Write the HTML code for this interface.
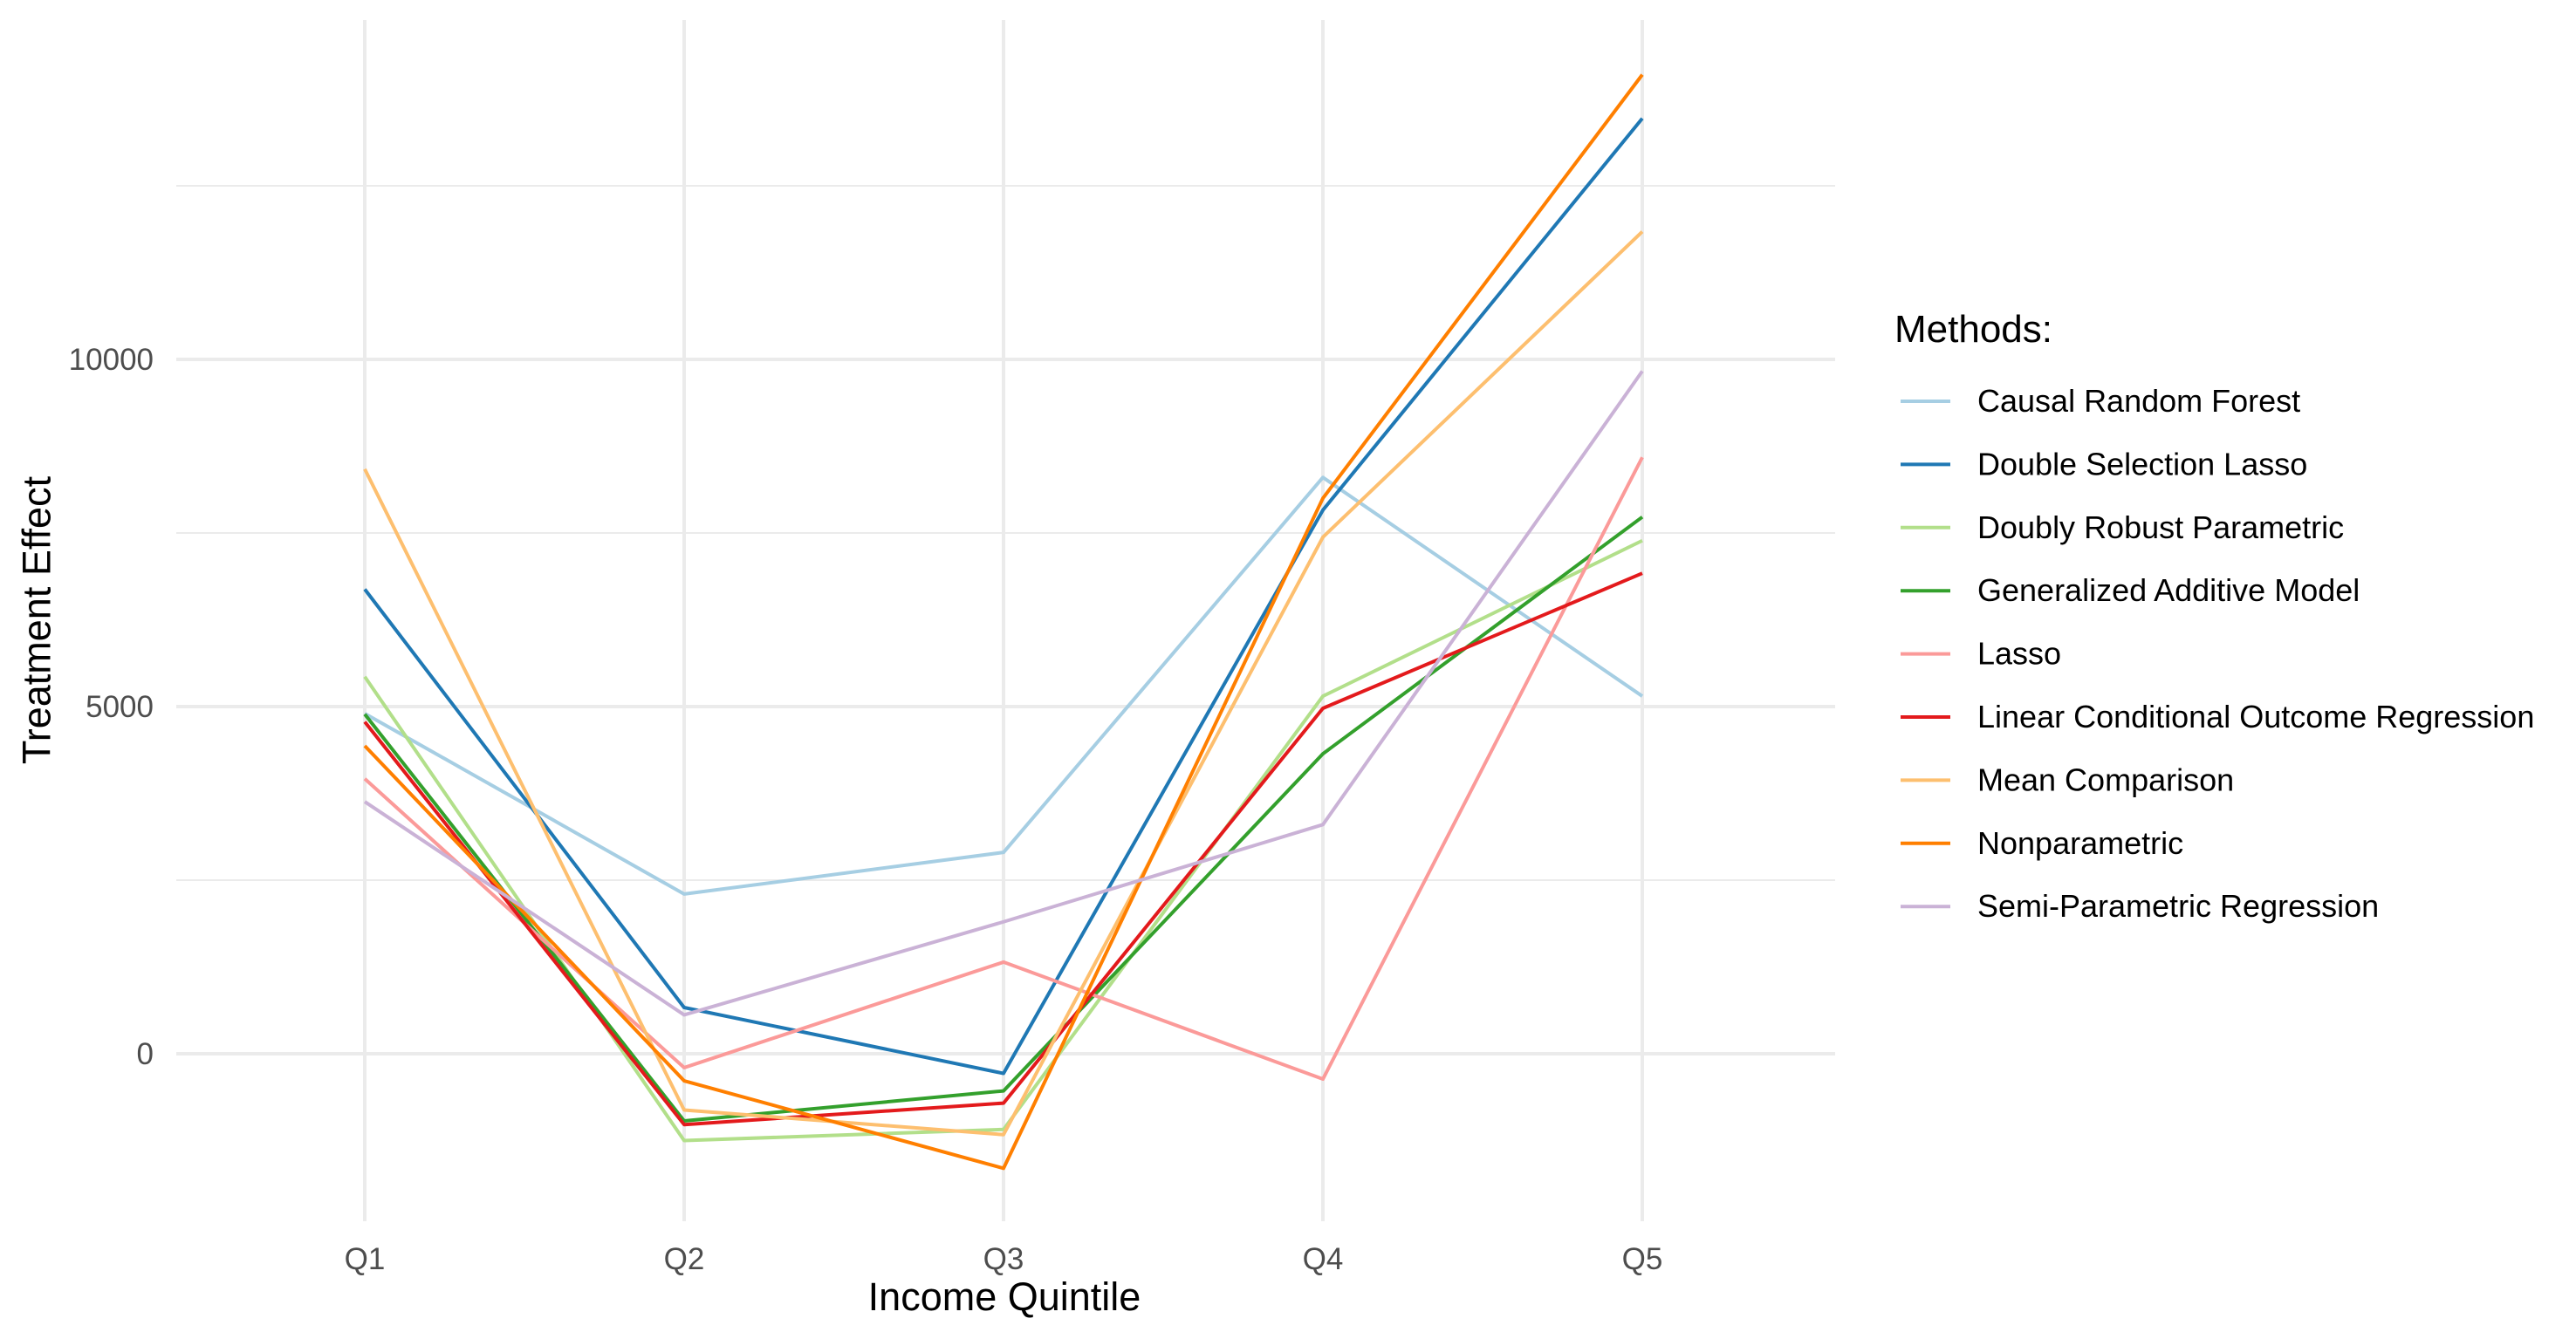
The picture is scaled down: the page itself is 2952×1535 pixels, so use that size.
<!DOCTYPE html>
<html><head><meta charset="utf-8"><style>
html,body{margin:0;padding:0;background:#fff;}
svg{display:block;font-family:"Liberation Sans",Arial,sans-serif;}
</style></head><body>
<svg id="chart" width="2952" height="1535" viewBox="0 0 2952 1535">
<g id="grid"></g>
<g id="lines"></g>
<g id="yticks"></g>
<g id="xticks"></g>
<text x="42" y="711" transform="rotate(-90 42 711)" text-anchor="middle" dominant-baseline="central" font-size="45" fill="#000">Treatment Effect</text>
<text x="1151" y="1502" text-anchor="middle" font-size="45" fill="#000">Income Quintile</text>
<g id="legend">
<text x="2171" y="392" font-size="44" fill="#000">Methods:</text>
</g>
</svg>
<script>
const categories = ["Q1","Q2","Q3","Q4","Q5"];
const methods = ["Causal Random Forest","Double Selection Lasso","Doubly Robust Parametric","Generalized Additive Model","Lasso","Linear Conditional Outcome Regression","Mean Comparison","Nonparametric","Semi-Parametric Regression"];
const colors = ["#a6cee3","#1f78b4","#b2df8a","#33a02c","#fb9a99","#e31a1c","#fdbf6f","#ff7f00","#cab2d6"];
const crf  = [4900, 2300, 2900, 8300, 5150];
const dsl  = [6690, 666, -283, 7830, 13470];
const drp  = [5430, -1250, -1090, 5150, 7390];
const gam  = [4890, -967, -535, 4320, 7730];
const lasso= [3960, -200, 1320, -365, 8590];
const lcor = [4780, -1020, -711, 4975, 6920];
const mc   = [8420, -810, -1165, 7440, 11840];
const np   = [4435, -390, -1650, 8000, 14100];
const spr  = [3630, 560, 1900, 3300, 9830];
const series = [crf, dsl, drp, gam, lasso, lcor, mc, np, spr];
const majorTicks = [0, 5000, 10000];
const minorTicks = [2500, 7500, 12500];
const tickLabels = ["0","5000","10000"];

const NS = "http://www.w3.org/2000/svg";
const plotLeft = 202, plotRight = 2103, plotTop = 23, plotBottom = 1400;
const xPos = i => 418 + i * 366;
const yPos = v => 1208 - v * 0.0796;
function mk(tag, attrs, parent){ const e=document.createElementNS(NS,tag); for(const k in attrs) e.setAttribute(k,attrs[k]); parent.appendChild(e); return e; }
const grid = document.getElementById('grid');
minorTicks.forEach(v=>{
  const l = mk('line',{x1:plotLeft,x2:plotRight,y1:yPos(v),y2:yPos(v),stroke:'#ebebeb','stroke-width':2},grid);
  
  
});
majorTicks.forEach(v=>{
  const l = mk('line',{x1:plotLeft,x2:plotRight,y1:yPos(v),y2:yPos(v),stroke:'#ebebeb','stroke-width':4},grid);
  
  
});
categories.forEach((c,i)=>{
  const l = mk('line',{x1:xPos(i),x2:xPos(i),y1:plotTop,y2:plotBottom,stroke:'#ebebeb','stroke-width':4},grid);
  
  
  const t = mk('text',{x:xPos(i),y:1455,'text-anchor':'middle','font-size':35,fill:'#4d4d4d'},document.getElementById('xticks'));
  t.textContent = c;
  
  
});
majorTicks.forEach((v,i)=>{
  const t = mk('text',{x:176,y:yPos(v)+12,'text-anchor':'end','font-size':35,fill:'#4d4d4d'},document.getElementById('yticks'));
  t.textContent = tickLabels[i];
  
  
});
const lines = document.getElementById('lines');
series.forEach((s,k)=>{
  const pts = s.map((v,i)=>xPos(i)+','+yPos(v)).join(' ');
  const p = mk('polyline',{points:pts,fill:'none',stroke:colors[k],'stroke-width':4,'stroke-linejoin':'round'},lines);
  
  
});
const legend = document.getElementById('legend');
methods.forEach((m,k)=>{
  const cy = 460 + k * 72.4;
  const g = mk('g',{},legend);
  
  
  mk('line',{x1:2178,x2:2235,y1:cy,y2:cy,stroke:colors[k],'stroke-width':4},g);
  const t = mk('text',{x:2266,y:cy+12,'font-size':36,fill:'#000'},g);
  t.textContent = m;
});
</script>
</body></html>
